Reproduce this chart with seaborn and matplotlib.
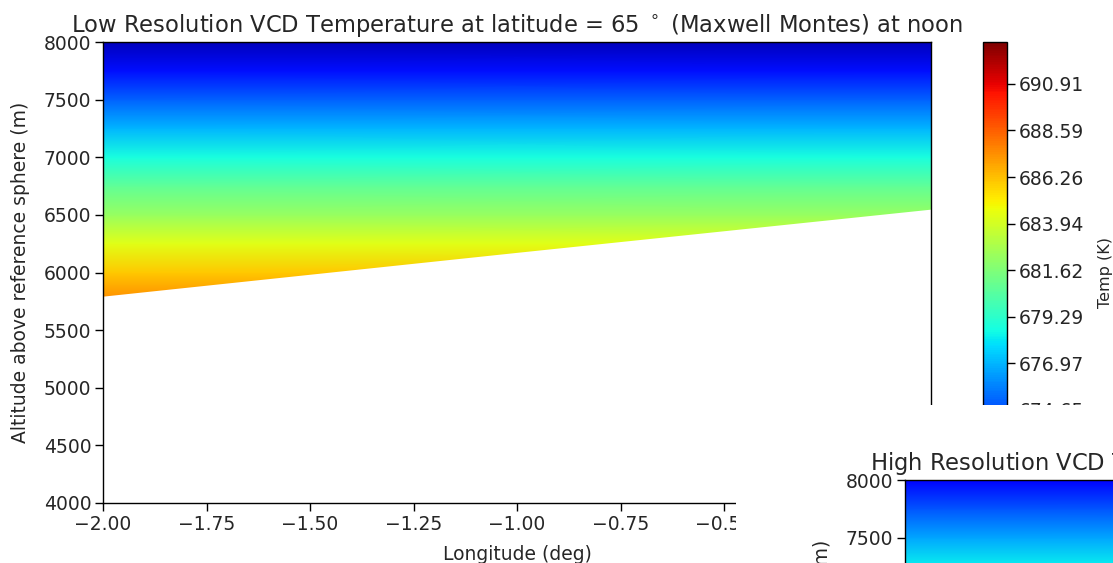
import numpy as np
import matplotlib
matplotlib.use("Agg")
import matplotlib.pyplot as plt
import seaborn as sns

# ---- data ----
title_low = "Low Resolution VCD Temperature at latitude = 65 $^\\circ$ (Maxwell Montes) at noon"
title_high = "High Resolution VCD Temperature at latitude = 65 $^\\circ$ (Maxwell Montes) at noon"
ylabel = "Altitude above reference sphere (m)"
xlabel = "Longitude (deg)"
cbar_label = "Temp (K)"

lon_edges = [-2.0, 0.0]
# low resolution temperature profile (altitude in m, temperature in K)
alt_low = [5750, 6000, 6250, 6500, 6750, 7000, 7250, 7500, 7750, 8000]
temp_low = [687.6, 686.0, 684.3, 682.3, 680.7, 678.8, 677.0, 675.1, 673.2, 671.2]
# surface (bottom of the valid data) along longitude
surf_lon = [-2.0, -1.0, 0.0]
surf_alt = [5795, 6175, 6550]
# high resolution panel (only its top is visible)
alt_high = [7000, 7250, 7500, 7750, 8000]
temp_high = [680.0, 678.3, 676.6, 674.8, 672.6]

t_min, t_max = 670.0, 693.0
cbar_ticks = [672.32, 674.65, 676.97, 679.29, 681.62, 683.94, 686.26, 688.59, 690.91]
xticks = [-2.00, -1.75, -1.50, -1.25, -1.00, -0.75, -0.50, -0.25, 0.00]
yticks = [4000, 4500, 5000, 5500, 6000, 6500, 7000, 7500, 8000]

sns.set_style("ticks")
plt.rcParams["font.family"] = ["DejaVu Sans"]
cmap = matplotlib.colormaps["jet"]

TICK_FS = 13.5
LABEL_FS = 13.5
TITLE_FS = 16.3
CBAR_LABEL_FS = 11.5

fig = plt.figure(figsize=(11.13, 5.63), dpi=100)
fig.patch.set_facecolor("white")

W, H = 1113.0, 563.0
def rect(x0, y0, x1, y1):
    return [x0 / W, 1 - y1 / H, (x1 - x0) / W, (y1 - y0) / H]


def draw_panel(ax, alts, temps, title, mask=True):
    X, Y = np.meshgrid(lon_edges, alts)
    C = np.repeat(np.asarray(temps)[:, None], len(lon_edges), axis=1)
    m = ax.pcolormesh(X, Y, C, shading="gouraud", cmap=cmap, vmin=t_min, vmax=t_max, zorder=1)
    if mask:
        ax.fill_between(surf_lon, 3000, surf_alt, color="white", lw=0, zorder=2)
    ax.set_xlim(-2.0, 0.0)
    ax.set_ylim(4000, 8000)
    ax.set_xticks(xticks)
    ax.set_xticklabels([f"{v:.2f}".replace("-", "\u2212") for v in xticks])
    ax.set_yticks(yticks)
    ax.set_yticklabels([str(v) for v in yticks])
    ax.tick_params(labelsize=TICK_FS, length=5.5, width=1, color="black", direction="out", pad=3)
    for s in ax.spines.values():
        s.set_color("black")
        s.set_linewidth(1.0)
        s.set_visible(True)
    ax.set_title(title, fontsize=TITLE_FS, pad=7)
    ax.set_ylabel(ylabel, fontsize=LABEL_FS, labelpad=10)
    ax.set_xlabel(xlabel, fontsize=LABEL_FS, labelpad=8)
    ax.set_facecolor("white")
    return m

# main (low-resolution) panel
ax = fig.add_axes(rect(103, 42, 931, 503))
mesh = draw_panel(ax, alt_low, temp_low, title_low)

cax = fig.add_axes(rect(983, 42, 1007, 503))
cb = fig.colorbar(mesh, cax=cax)
cb.set_ticks(cbar_ticks)
cb.set_ticklabels([f"{v:.2f}" for v in cbar_ticks])
cb.ax.tick_params(labelsize=TICK_FS, length=5.5, width=1, color="black", pad=3)
cb.outline.set_edgecolor("black")
cb.outline.set_linewidth(1.0)
cb.set_label(cbar_label, fontsize=CBAR_LABEL_FS, labelpad=10)

# overlapping second figure: white cover + high-resolution panel
cover = fig.add_axes(rect(736, 405, 1113, 563), zorder=5)
cover.set_facecolor("white")
cover.set_xticks([])
cover.set_yticks([])
for s in cover.spines.values():
    s.set_visible(False)

ax2 = fig.add_axes(rect(905, 480, 1733, 941), zorder=6)
draw_panel(ax2, alt_high, temp_high, title_high, mask=False)

fig.savefig("out.png", dpi=100, facecolor="white")
